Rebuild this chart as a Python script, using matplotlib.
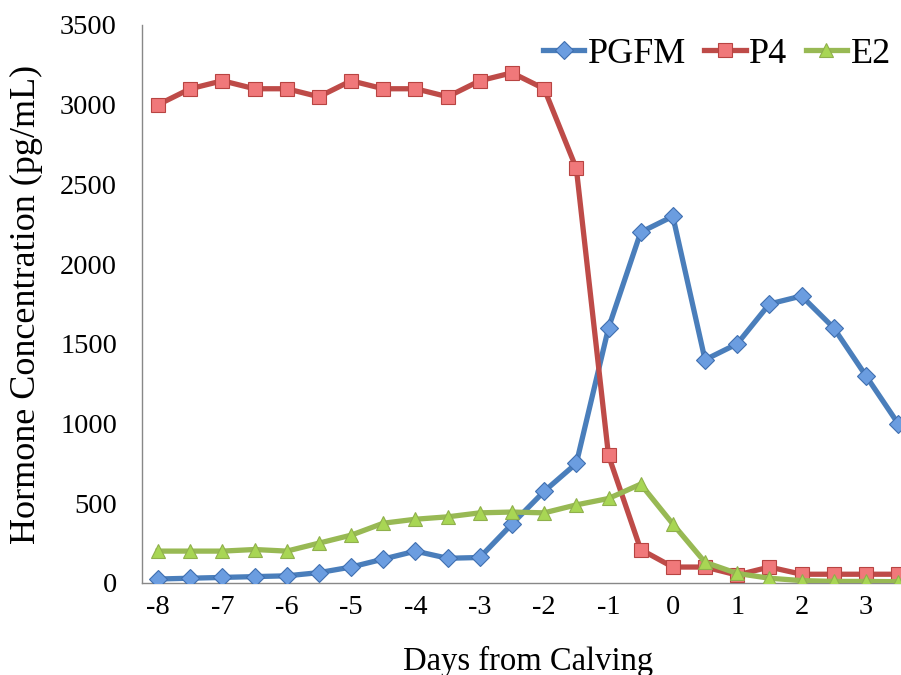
import numpy as np
import matplotlib
matplotlib.use("Agg")
import matplotlib.pyplot as plt

plt.rcParams['font.family'] = ['Liberation Serif', 'DejaVu Serif']

days = np.arange(-8, 4, 0.5)
pgfm = [25, 30, 35, 40, 45, 65, 100, 150, 200, 155, 160, 370, 575, 750,
        1600, 2200, 2300, 1400, 1500, 1750, 1800, 1600, 1300, 1000]
p4 = [3000, 3100, 3150, 3100, 3100, 3050, 3150, 3100, 3100, 3050, 3150, 3200,
      3100, 2600, 800, 210, 100, 100, 50, 100, 55, 55, 55, 55]
e2 = [200, 200, 200, 210, 200, 250, 300, 375, 400, 415, 440, 445, 440, 490,
      530, 620, 370, 130, 60, 30, 15, 10, 10, 8]
xticks = [-8, -7, -6, -5, -4, -3, -2, -1, 0, 1, 2, 3]

fig = plt.figure(figsize=(9.01, 6.75), dpi=100)
ax = fig.add_axes([0.1576, 0.1363, 0.857, 0.8267])

ax.plot(days, pgfm, color='#4a7ebb', lw=3.8, marker='D', ms=9,
        mfc='#6b9de0', mec='#3f6fb0', mew=0.8, label='PGFM', zorder=3)
ax.plot(days, p4, color='#be4b48', lw=3.8, marker='s', ms=10,
        mfc='#f0787a', mec='#b84442', mew=0.8, label='P4', zorder=3)
ax.plot(days, e2, color='#98b954', lw=3.8, marker='^', ms=10,
        mfc='#a8d654', mec='#8fb04c', mew=0.8, label='E2', zorder=3)

ax.set_xlim(-8.25, 3.75)
ax.set_ylim(0, 3500)
ax.set_yticks(range(0, 3501, 500))
ax.set_xticks(xticks)
ax.set_xticklabels([str(t) for t in xticks])
ax.tick_params(axis='both', length=0, labelsize=20.5)
ax.tick_params(axis='x', pad=9)
ax.tick_params(axis='y', pad=18)

for s in ['top', 'right']:
    ax.spines[s].set_visible(False)
ax.spines['left'].set_color('#888888')
ax.spines['bottom'].set_color('#888888')
ax.spines['left'].set_linewidth(1)
ax.spines['bottom'].set_linewidth(1)

ax.set_xlabel('Days from Calving', fontsize=23.5, labelpad=18)
ax.set_ylabel('Hormone Concentration (pg/mL)', fontsize=26, labelpad=12)

fig.legend(loc='center right', bbox_to_anchor=(1.005, 0.92), ncol=3,
           frameon=False, fontsize=26, handlelength=1.15, handletextpad=0.1,
           columnspacing=0.5, borderaxespad=0)

fig.savefig('out.png', dpi=100)
